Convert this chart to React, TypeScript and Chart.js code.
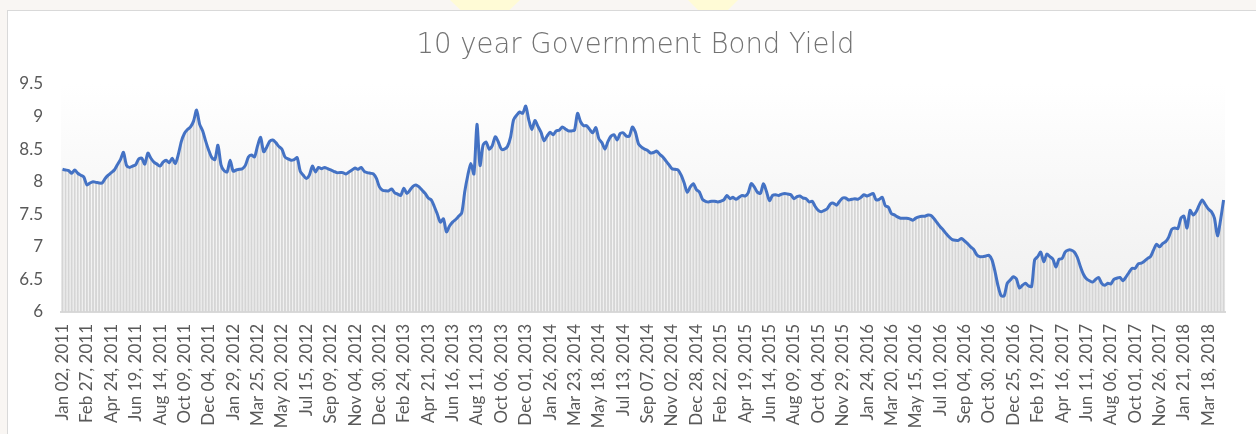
import React, { useEffect, useRef } from "react";
import { Chart, registerables } from "chart.js";

Chart.register(...registerables);

// Weekly 10-year government bond yield (%), first week = Jan 02, 2011
const YIELD_PART_1 = [
  8.19, 8.18, 8.17, 8.13, 8.18, 8.13, 8.10, 8.07, 7.95, 7.98,
  8.00, 7.99, 7.98, 7.98, 8.05, 8.10, 8.14, 8.18, 8.26, 8.34,
  8.45, 8.25, 8.22, 8.24, 8.26, 8.35, 8.36, 8.27, 8.44, 8.36,
  8.30, 8.27, 8.24, 8.30, 8.33, 8.29, 8.36, 8.28, 8.42, 8.62,
  8.74, 8.80, 8.84, 8.93, 9.10, 8.88, 8.78, 8.62, 8.48, 8.37,
  8.34, 8.56, 8.26, 8.17, 8.15, 8.33, 8.16, 8.18, 8.19, 8.20,
  8.25, 8.38, 8.41, 8.38, 8.55, 8.68, 8.46, 8.53, 8.62, 8.64,
  8.60, 8.54, 8.50, 8.38, 8.35, 8.33, 8.34, 8.37, 8.16, 8.10,
  8.05, 8.10, 8.24, 8.15, 8.22, 8.20, 8.22, 8.20, 8.18, 8.16,
  8.14, 8.14, 8.14, 8.12, 8.15, 8.18, 8.21, 8.19, 8.22, 8.16,
];
const YIELD_PART_2 = [
  8.14, 8.13, 8.12, 8.05, 7.92, 7.87, 7.86, 7.86, 7.89, 7.83,
  7.81, 7.79, 7.90, 7.82, 7.87, 7.93, 7.95, 7.92, 7.87, 7.82,
  7.75, 7.72, 7.62, 7.50, 7.38, 7.43, 7.23, 7.32, 7.38, 7.42,
  7.47, 7.52, 7.85, 8.10, 8.28, 8.12, 8.88, 8.25, 8.56, 8.61,
  8.50, 8.55, 8.69, 8.61, 8.50, 8.50, 8.54, 8.68, 8.95, 9.02,
  9.07, 9.05, 9.16, 8.95, 8.80, 8.94, 8.85, 8.76, 8.63, 8.70,
  8.76, 8.72, 8.78, 8.79, 8.84, 8.81, 8.78, 8.78, 8.79, 9.05,
  8.92, 8.86, 8.86, 8.80, 8.75, 8.83, 8.66, 8.60, 8.50, 8.62,
  8.70, 8.72, 8.64, 8.74, 8.75, 8.70, 8.70, 8.84, 8.76, 8.58,
  8.53, 8.50, 8.48, 8.44, 8.45, 8.47, 8.42, 8.38, 8.32, 8.26,
];
const YIELD_PART_3 = [
  8.20, 8.19, 8.18, 8.10, 7.98, 7.84, 7.92, 7.97, 7.88, 7.84,
  7.73, 7.70, 7.69, 7.70, 7.70, 7.69, 7.70, 7.72, 7.79, 7.74,
  7.76, 7.73, 7.76, 7.79, 7.78, 7.83, 7.97, 7.92, 7.84, 7.82,
  7.97, 7.85, 7.71, 7.79, 7.80, 7.79, 7.81, 7.82, 7.81, 7.80,
  7.74, 7.77, 7.78, 7.75, 7.74, 7.69, 7.70, 7.62, 7.56, 7.54,
  7.56, 7.59, 7.66, 7.67, 7.64, 7.70, 7.75, 7.75, 7.72, 7.73,
  7.74, 7.73, 7.76, 7.80, 7.78, 7.80, 7.82, 7.72, 7.73, 7.76,
  7.63, 7.61, 7.51, 7.49, 7.46, 7.44, 7.44, 7.44, 7.43, 7.41,
  7.44, 7.46, 7.47, 7.47, 7.49, 7.48, 7.43, 7.37, 7.31, 7.26,
  7.20, 7.15, 7.11, 7.10, 7.10, 7.13, 7.09, 7.05, 7.00, 6.96,
];
const YIELD_PART_4 = [
  6.88, 6.85, 6.85, 6.86, 6.87, 6.80, 6.62, 6.40, 6.25, 6.25,
  6.44, 6.49, 6.54, 6.51, 6.37, 6.41, 6.44, 6.40, 6.39, 6.80,
  6.85, 6.92, 6.77, 6.89, 6.85, 6.81, 6.69, 6.81, 6.82, 6.92,
  6.95, 6.95, 6.92, 6.84, 6.70, 6.58, 6.51, 6.48, 6.46, 6.50,
  6.53, 6.44, 6.41, 6.44, 6.43, 6.50, 6.52, 6.53, 6.48, 6.54,
  6.61, 6.67, 6.67, 6.74, 6.75, 6.78, 6.82, 6.85, 6.95, 7.04,
  7.00, 7.05, 7.08, 7.15, 7.27, 7.29, 7.28, 7.44, 7.47, 7.29,
  7.56, 7.49, 7.54, 7.64, 7.72, 7.65, 7.58, 7.54, 7.44, 7.17,
  7.41, 7.72,
];

const YIELDS = [...YIELD_PART_1, ...YIELD_PART_2, ...YIELD_PART_3, ...YIELD_PART_4];

const MONTHS = ["Jan", "Feb", "Mar", "Apr", "May", "Jun", "Jul", "Aug", "Sep", "Oct", "Nov", "Dec"];
const START_UTC = Date.UTC(2011, 0, 2);
const WEEK_MS = 7 * 86400000;
const LABEL_EVERY = 8;

const CATEGORIES = YIELDS.map((_, i) => {
  const d = new Date(START_UTC + i * WEEK_MS);
  const dd = String(d.getUTCDate()).padStart(2, "0");
  return `${MONTHS[d.getUTCMonth()]} ${dd}, ${d.getUTCFullYear()}`;
});

const Y_MIN = 6;
const Y_MAX = 9.5;
const Y_STEP = 0.5;

const TITLE = "10 year Government Bond Yield";

const plotBackground = {
  id: "plotBackground",
  beforeDraw(chart: any) {
    const { ctx, chartArea } = chart;
    if (!chartArea) return;
    const g = ctx.createLinearGradient(0, chartArea.top, 0, chartArea.bottom);
    g.addColorStop(0, "#ffffff");
    g.addColorStop(1, "#efefef");
    ctx.save();
    ctx.fillStyle = g;
    ctx.fillRect(chartArea.left, chartArea.top, chartArea.right - chartArea.left, chartArea.bottom - chartArea.top);
    ctx.restore();
  },
};

const cardTitle = {
  id: "cardTitle",
  afterDraw(chart: any) {
    const { ctx } = chart;
    ctx.save();
    ctx.font = "200 27.5px 'DejaVu Sans', sans-serif";
    ctx.fillStyle = "#737373";
    ctx.textAlign = "center";
    ctx.textBaseline = "alphabetic";
    ctx.fillText(TITLE, 635.5, 53);
    ctx.restore();
  },
};

export default function App() {
  const canvasRef = useRef<HTMLCanvasElement | null>(null);

  useEffect(() => {
    if (!canvasRef.current) return;
    const chart = new Chart(canvasRef.current, {
      type: "bar",
      data: {
        labels: CATEGORIES,
        datasets: [
          {
            type: "line",
            data: YIELDS,
            borderColor: "#4472C4",
            borderWidth: 3,
            pointRadius: 0,
            tension: 0.25,
            fill: false,
            order: 0,
          } as any,
          {
            type: "bar",
            data: YIELDS,
            backgroundColor: "#d5d5d5",
            barPercentage: 0.6,
            categoryPercentage: 1,
            order: 1,
          },
        ],
      },
      options: {
        animation: false,
        responsive: false,
        maintainAspectRatio: false,
        layout: { padding: { top: 84, right: 18, left: 0, bottom: 0 } },
        plugins: {
          legend: { display: false },
          tooltip: { enabled: false },
          title: { display: false },
        },
        scales: {
          x: {
            grid: { display: false, drawTicks: false },
            border: { display: true, color: "#d9d9d9", width: 2 },
            ticks: {
              autoSkip: false,
              maxRotation: 90,
              minRotation: 90,
              padding: 12,
              color: "#595959",
              font: { family: "Lato, sans-serif", size: 17 },
              callback: (_v: any, i: number) => (i % LABEL_EVERY === 0 ? CATEGORIES[i] : ""),
            },
            afterFit: (axis: any) => {
              axis.height = 122;
            },
          },
          y: {
            min: Y_MIN,
            max: Y_MAX,
            grid: { display: false, drawTicks: false },
            border: { display: false },
            ticks: {
              stepSize: Y_STEP,
              padding: 18,
              color: "#595959",
              font: { family: "Lato, sans-serif", size: 17 },
              callback: (v: any) => String(Number(v)),
            },
            afterFit: (axis: any) => {
              axis.width = 61;
            },
          },
        },
      },
      plugins: [plotBackground, cardTitle],
    });
    return () => chart.destroy();
  }, []);

  return (
    <div style={{ position: "fixed", left: 0, top: 0, width: 1256, height: 434, background: "#f9f6f3", overflow: "hidden" }}>
      <div style={{ position: "absolute", left: 450, top: 0, width: 70, height: 10, background: "#fffbd6", clipPath: "polygon(0 0,100% 0,85% 100%,15% 100%)" }} />
      <div style={{ position: "absolute", left: 688, top: 0, width: 50, height: 10, background: "#fffbd6", clipPath: "polygon(0 0,100% 0,80% 100%,20% 100%)" }} />
      <div style={{ position: "absolute", left: 7, top: 10, width: 1260, height: 430, background: "#ffffff", border: "1px solid #d9d9d9", boxSizing: "border-box" }} />
      <canvas ref={canvasRef} width={1256} height={434} style={{ position: "absolute", left: 0, top: 0, width: 1256, height: 434 }} />
    </div>
  );
}
